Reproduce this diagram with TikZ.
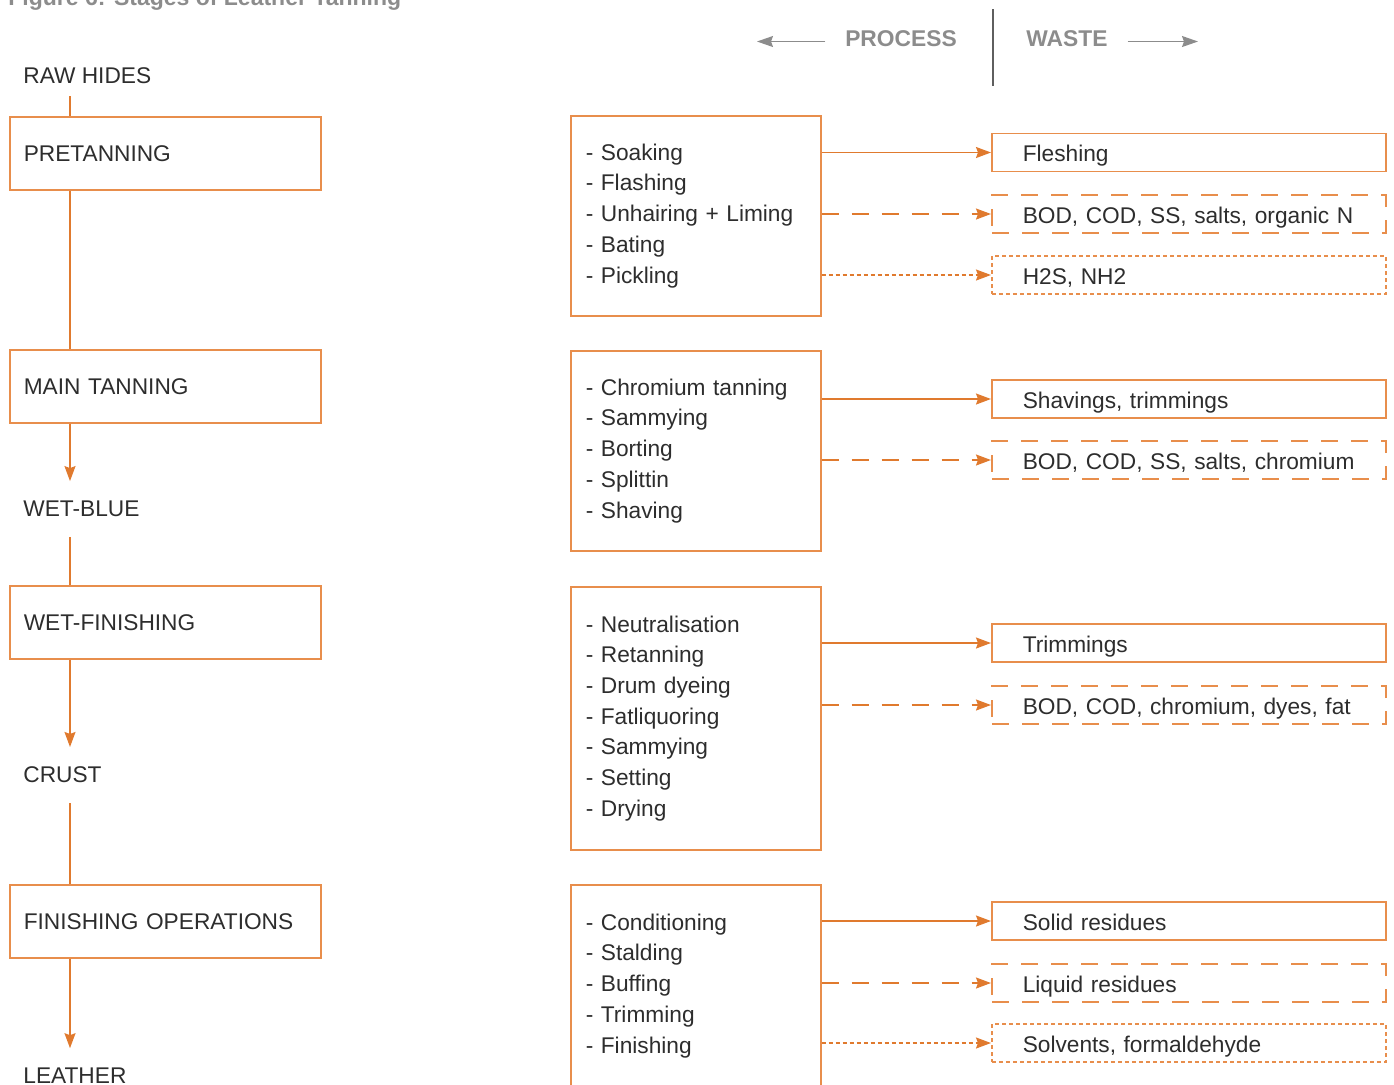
\documentclass[tikz,border=0pt]{standalone}
\usepackage{fontspec}
\setmainfont{Liberation Sans}
\usepackage{tikz}
\usetikzlibrary{arrows.meta,positioning}
\definecolor{ink}{RGB}{45,45,45}
\definecolor{boxline}{RGB}{232,142,76}
\definecolor{flowline}{RGB}{224,122,46}
\definecolor{headgray}{RGB}{140,140,140}
\definecolor{divgray}{RGB}{95,95,95}
\tikzstyle{stage} = [rectangle, draw=boxline, line width=0.75pt, anchor=north west, text width=141.5pt, inner xsep=7pt, minimum height=36.5pt, align=left]
\tikzstyle{stagetext} = [anchor=west, inner sep=0pt, outer ysep=10pt]
\tikzstyle{process} = [rectangle, draw=boxline, line width=0.75pt, anchor=north west, text width=110pt, inner xsep=7.5pt, minimum height=100pt, align=left]
\tikzstyle{waste} = [rectangle, draw=boxline, line width=0.75pt, anchor=west, text width=166pt, inner xsep=15.5pt, minimum height=19pt, text height=9.2pt, text depth=0pt, align=left]
\tikzstyle{longdashed} = [dash pattern=on 8.5pt off 6.5pt]
\tikzstyle{shortdashed} = [dash pattern=on 2pt off 1.5pt]
\tikzstyle{spine} = [draw=flowline, line width=0.75pt]
\tikzstyle{flow} = [draw=flowline, line width=0.75pt, -{Stealth[length=7.5pt,width=5.5pt,inset=1pt]}]
\tikzstyle{headtext} = [font=\bfseries\fontsize{11.4pt}{13pt}\selectfont, text=headgray, inner sep=0pt, outer xsep=10pt]
\tikzstyle{headarrow} = [draw=headgray, line width=0.6pt, -{Stealth[length=8pt,width=5.5pt,inset=1pt]}]
\tikzstyle{figtitle} = [font=\bfseries\fontsize{11.5pt}{13pt}\selectfont, text=headgray, anchor=base west, inner sep=0pt]

\begin{document}
\begin{tikzpicture}[x=0.5pt, y=-0.5pt, font=\fontsize{11.35pt}{15.35pt}\selectfont, text=ink]
\useasboundingbox (0,0) rectangle (1394,1084);
\node(T)[figtitle] at (8,5) {Figure 6: Stages of Leather Tanning};

\node(PR)[headtext] at (901,39) {PROCESS};
\node(WA)[headtext] at (1067,39) {WASTE};
\coordinate(PL) at (757,41.5);
\coordinate(WR) at (1198,41.5);
\coordinate(DT) at (993,9);
\coordinate(DB) at (993,86);
\draw[headarrow] (PL -| PR.west) -- (PL);
\draw[headarrow] (WR -| WA.east) -- (WR);
\draw[divgray, line width=0.8pt] (DT) -- (DB);

\coordinate(SP) at (70,0);
\node(RH)[stagetext, outer ysep=6pt] at (23,76) {RAW HIDES};
\node(PT)[stage] at (9,116) {PRETANNING};
\node(MT)[stage] at (9,349) {MAIN TANNING};
\node(WB)[stagetext] at (23,509) {WET-BLUE};
\node(WF)[stage] at (9,585) {WET-FINISHING};
\node(CR)[stagetext] at (23,775) {CRUST};
\node(FO)[stage] at (9,884) {FINISHING OPERATIONS};
\node(LE)[stagetext] at (23,1076) {LEATHER};

\draw[spine] (RH.south -| SP) -- (PT.north -| SP);
\draw[spine] (PT.south -| SP) -- (MT.north -| SP);
\draw[flow] (MT.south -| SP) -- (WB.north -| SP);
\draw[spine] (WB.south -| SP) -- (WF.north -| SP);
\draw[flow] (WF.south -| SP) -- (CR.north -| SP);
\draw[spine] (CR.south -| SP) -- (FO.north -| SP);
\draw[flow] (FO.south -| SP) -- (LE.north -| SP);

\node(P1)[process] at (570,115) {- Soaking\\- Flashing\\- Unhairing + Liming\\- Bating\\- Pickling};
\node(P2)[process] at (570,350) {- Chromium tanning\\- Sammying\\- Borting\\- Splittin\\- Shaving};
\node(P3)[process, minimum height=131.5pt] at (570,586) {- Neutralisation\\- Retanning\\- Drum dyeing\\- Fatliquoring\\- Sammying\\- Setting\\- Drying};
\node(P4)[process, minimum height=101pt] at (570,884) {- Conditioning\\- Stalding\\- Buffing\\- Trimming\\- Finishing};

\node(W1)[waste] at (991,152.5) {Fleshing};
\node(W2)[waste, longdashed] at (991,214) {BOD, COD, SS, salts, organic N};
\node(W3)[waste, shortdashed] at (991,275) {H2S, NH2};
\node(W4)[waste] at (991,399) {Shavings, trimmings};
\node(W5)[waste, longdashed] at (991,460) {BOD, COD, SS, salts, chromium};
\node(W6)[waste] at (991,643) {Trimmings};
\node(W7)[waste, longdashed] at (991,705) {BOD, COD, chromium, dyes, fat};
\node(W8)[waste] at (991,921) {Solid residues};
\node(W9)[waste, longdashed] at (991,983) {Liquid residues};
\node(W10)[waste, shortdashed] at (991,1043) {Solvents, formaldehyde};

\draw[flow] (W1.west -| P1.east) -- (W1.west);
\draw[flow, longdashed] (W2.west -| P1.east) -- (W2.west);
\draw[flow, shortdashed] (W3.west -| P1.east) -- (W3.west);
\draw[flow] (W4.west -| P2.east) -- (W4.west);
\draw[flow, longdashed] (W5.west -| P2.east) -- (W5.west);
\draw[flow] (W6.west -| P3.east) -- (W6.west);
\draw[flow, longdashed] (W7.west -| P3.east) -- (W7.west);
\draw[flow] (W8.west -| P4.east) -- (W8.west);
\draw[flow, longdashed] (W9.west -| P4.east) -- (W9.west);
\draw[flow, shortdashed] (W10.west -| P4.east) -- (W10.west);
\end{tikzpicture}
\end{document}
